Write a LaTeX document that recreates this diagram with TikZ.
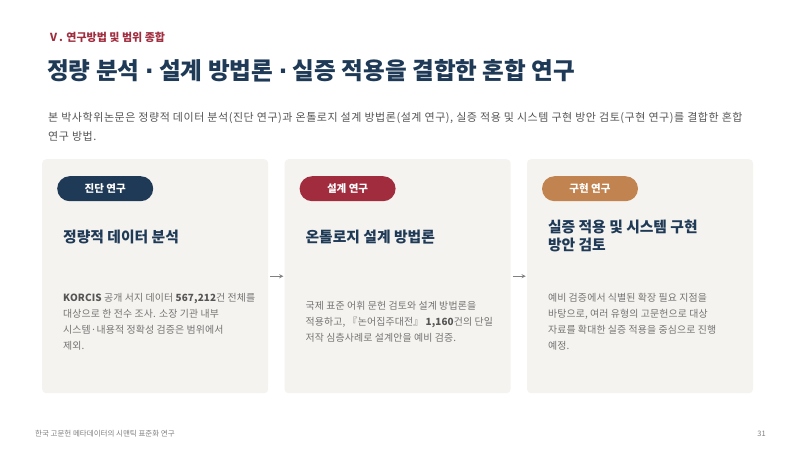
\documentclass[tikz,border=0pt]{standalone}
\usepackage{fontspec}
\setmainfont{Noto Sans CJK KR}
\newfontfamily\dotfont{DejaVu Sans}
\usetikzlibrary{positioning}

\definecolor{navy}{HTML}{1F3A57}
\definecolor{wine}{HTML}{A02C3E}
\definecolor{ochre}{HTML}{C1834F}
\definecolor{paper}{HTML}{F5F3EF}
\definecolor{bodygray}{HTML}{747474}
\definecolor{leadgray}{HTML}{555555}

\newcommand{\fsz}[2]{\fontsize{#1pt}{#2pt}\selectfont}
\newcommand{\middot}{{\dotfont\bfseries ·}}

\begin{document}
\begin{tikzpicture} [x=1pt, y=-1pt, node distance=16pt,
  card/.style={rectangle, fill=paper, rounded corners=4pt, minimum width=226pt, minimum height=234pt, inner sep=0pt},
  tag/.style={rectangle, rounded corners=12.5pt, minimum width=96pt, minimum height=25pt, inner sep=0pt, text=white, font=\fsz{10.5}{12}\bfseries},
  heading/.style={anchor=west, align=left, inner sep=0pt, text=navy, font=\fsz{14.8}{18}\bfseries},
  body/.style={anchor=west, align=left, inner sep=0pt, text=bodygray, font=\fsz{9.9}{16}\addfontfeature{LetterSpace=1.5}},
  flow/.style={->, >=stealth, draw=gray, line width=0.9pt, shorten <=2pt, shorten >=1pt}]
  \fill[white] (0,0) rectangle (800,450);
  \useasboundingbox (0,0) rectangle (800,450);
  % Header
  \node [anchor=west, inner sep=0pt, text=wine, font=\fsz{11}{13}\bfseries] (section) at (48,37) {Ⅴ. 연구방법 및 범위 종합};
  \node [anchor=west, inner sep=0pt, text=navy, font=\fsz{23.6}{28}\bfseries] (title) at (47,71) {정량 분석 \middot{} 설계 방법론 \middot{} 실증 적용을 결합한 혼합 연구};
  \node [anchor=north west, align=left, inner sep=0pt, text=leadgray, font=\fsz{11}{19}\addfontfeature{LetterSpace=5}] (lead) at (48,112) {본 박사학위논문은 정량적 데이터 분석(진단 연구)과 온톨로지 설계 방법론(설계 연구), 실증 적용 및 시스템 구현 방안 검토(구현 연구)를 결합한 혼합\\연구 방법.};
  % Cards
  \node [card, anchor=north west] (diag) at (42,159) {};
  \node [card, right=of diag] (design) {};
  \node [card, right=of design] (impl) {};
  % Tags
  \node [tag, fill=navy, anchor=north west] (diagtag) at ([xshift=15pt, yshift=-17pt]diag.north west) {진단 연구};
  \node [tag, fill=wine, anchor=north west] (designtag) at ([xshift=15pt, yshift=-17pt]design.north west) {설계 연구};
  \node [tag, fill=ochre, anchor=north west] (impltag) at ([xshift=15pt, yshift=-17pt]impl.north west) {구현 연구};
  % Headings
  \node [heading] (diaghead) at ([xshift=21pt, yshift=-78pt]diag.north west) {정량적 데이터 분석};
  \node [heading] (designhead) at ([xshift=21pt, yshift=-78pt]design.north west) {온톨로지 설계 방법론};
  \node [heading] (implhead) at ([xshift=21pt, yshift=-77pt]impl.north west) {실증 적용 및 시스템 구현\\방안 검토};
  % Body texts
  \node [body] (diagbody) at ([xshift=21pt, yshift=-163pt]diag.north west) {{\color{leadgray}\bfseries KORCIS} 공개 서지 데이터 {\color{leadgray}\bfseries 567,212}건 전체를\\대상으로 한 전수 조사. 소장 기관 내부\\시스템·내용적 정확성 검증은 범위에서\\제외.};
  \node [body] (designbody) at ([xshift=21pt, yshift=-163pt]design.north west) {국제 표준 어휘 문헌 검토와 설계 방법론을\\적용하고, 『논어집주대전』 {\color{leadgray}\bfseries 1,160}건의 단일\\저작 심층사례로 설계안을 예비 검증.};
  \node [body] (implbody) at ([xshift=21pt, yshift=-163pt]impl.north west) {예비 검증에서 식별된 확장 필요 지점을\\바탕으로, 여러 유형의 고문헌으로 대상\\자료를 확대한 실증 적용을 중심으로 진행\\예정.};
  % Flow
  \draw [flow] (diag.east) -- (design.west);
  \draw [flow] (design.east) -- (impl.west);
  % Footer
  \node [anchor=west, inner sep=0pt, text=gray, font=\fsz{7.5}{9}] (foot) at (35,434) {한국 고문헌 메타데이터의 시맨틱 표준화 연구};
  \node [anchor=east, inner sep=0pt, text=gray, font=\fsz{7.5}{9}] (page) at (766,434) {31};
\end{tikzpicture}
\end{document}
